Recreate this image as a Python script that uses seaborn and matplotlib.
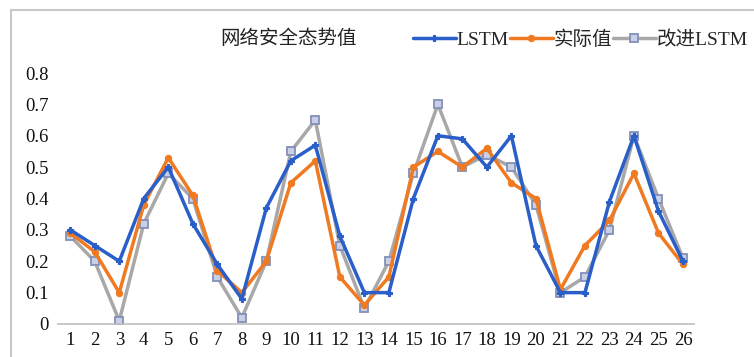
import matplotlib
matplotlib.use("Agg")
import matplotlib.pyplot as plt
from matplotlib.patches import Rectangle
import seaborn as sns
import pandas as pd

# Sample index and the three series of network security situation values
samples = list(range(1, 27))
lstm = [0.30, 0.25, 0.20, 0.40, 0.50, 0.32, 0.19, 0.08, 0.37, 0.52, 0.57, 0.28, 0.10,
        0.10, 0.40, 0.60, 0.59, 0.50, 0.60, 0.25, 0.10, 0.10, 0.39, 0.60, 0.36, 0.20]
actual = [0.29, 0.23, 0.10, 0.38, 0.53, 0.41, 0.17, 0.10, 0.20, 0.45, 0.52, 0.15, 0.06,
          0.15, 0.50, 0.55, 0.50, 0.56, 0.45, 0.40, 0.11, 0.25, 0.33, 0.48, 0.29, 0.19]
improved = [0.28, 0.20, 0.01, 0.32, 0.48, 0.40, 0.15, 0.02, 0.20, 0.55, 0.65, 0.25, 0.05,
            0.20, 0.48, 0.70, 0.50, 0.54, 0.50, 0.38, 0.10, 0.15, 0.30, 0.60, 0.40, 0.21]
series_names = ["LSTM", "实际值", "改进LSTM"]
title_text = "网络安全态势值"
yticks = [0, 0.1, 0.2, 0.3, 0.4, 0.5, 0.6, 0.7, 0.8]

sns.set_theme(style="white")
plt.rcParams["font.family"] = ["Liberation Serif", "Noto Sans CJK SC"]

df = pd.DataFrame({"x": samples * 3,
                   "y": lstm + actual + improved,
                   "s": [series_names[0]] * 26 + [series_names[1]] * 26 + [series_names[2]] * 26})

fig = plt.figure(figsize=(7.54, 3.57), dpi=100)
ax = fig.add_axes([58 / 754, 1 - 324 / 357, (694 - 58) / 754, (324 - 73) / 357])

# outer chart frame
fig.patches.append(Rectangle((11 / 754, -0.1), 1.2, 1 - 10 / 357 + 0.1,
                             transform=fig.transFigure, fill=False,
                             edgecolor="#c9c9c9", linewidth=1.5))

styles = {
    "LSTM": dict(color="#2a5fc9", marker="P", markersize=4.5, markeredgewidth=0.8,
                 markerfacecolor="#2a5fc9", markeredgecolor="#2a5fc9"),
    "实际值": dict(color="#f07a22", marker="o", markersize=4.5, markeredgewidth=0.8,
                markerfacecolor="#f07a22", markeredgecolor="#f07a22"),
    "改进LSTM": dict(color="#a8a8a8", marker="s", markersize=5.5, markeredgewidth=1.3,
                   markerfacecolor="#c9d0e6", markeredgecolor="#8390b8"),
}
zorders = {"改进LSTM": 2, "实际值": 3, "LSTM": 4}
for name in ["改进LSTM", "实际值", "LSTM"]:
    sub = df[df["s"] == name]
    sns.lineplot(data=sub, x="x", y="y", ax=ax, label=name, linewidth=2.5,
                 zorder=zorders[name], **styles[name])

ax.set_xlim(0.5, 26.45)
ax.set_ylim(0, 0.8)
ax.set_xticks(samples)
ax.set_xticklabels([str(s) for s in samples])
ax.set_yticks(yticks)
ax.set_yticklabels(["0"] + [f"{v:.1f}" for v in yticks[1:]])
ax.tick_params(axis="both", length=0, labelsize=13.5, colors="#111111")
ax.tick_params(axis="y", pad=7)
ax.tick_params(axis="x", pad=6)
ax.set_xlabel("")
ax.set_ylabel("")
for side in ["top", "right", "left"]:
    ax.spines[side].set_visible(False)
ax.spines["bottom"].set_color("#bfbfbf")
ax.spines["bottom"].set_linewidth(1.2)
ax.grid(False)

handles, labels = ax.get_legend_handles_labels()
order = [labels.index(n) for n in series_names]
ax.get_legend().remove()
fig.legend([handles[i] for i in order], [labels[i] for i in order],
           loc="center right", bbox_to_anchor=(748 / 754, 1 - 40 / 357), ncol=3,
           frameon=False, fontsize=14, handlelength=2.2, handletextpad=0.05,
           columnspacing=0.05, borderaxespad=0, borderpad=0)

fig.text(288 / 754, 1 - 39 / 357, title_text, ha="center", va="center",
         fontsize=14, color="#222222", family=["Noto Sans CJK SC", "DejaVu Sans"])

fig.savefig("out.png", dpi=100)
